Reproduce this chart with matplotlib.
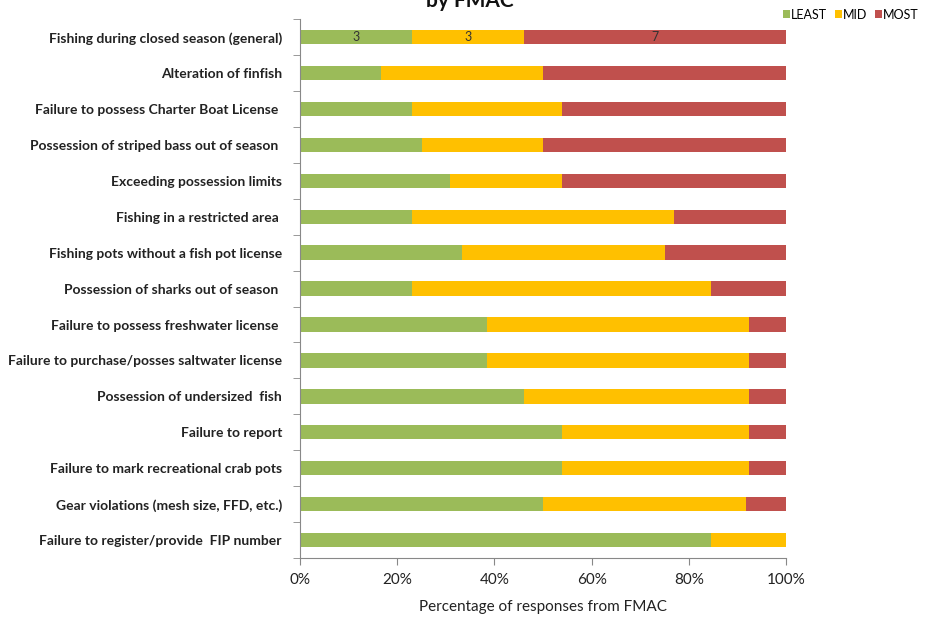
import numpy as np
import matplotlib
matplotlib.use('Agg')
import matplotlib.pyplot as plt

plt.rcParams['font.family'] = ['Lato', 'DejaVu Sans']

violations = ['Fishing during closed season (general)', 'Alteration of finfish',
              'Failure to possess Charter Boat License ', 'Possession of striped bass out of season ',
              'Exceeding possession limits', 'Fishing in a restricted area ',
              'Fishing pots without a fish pot license', 'Possession of sharks out of season ',
              'Failure to possess freshwater license ', 'Failure to purchase/posses saltwater license',
              'Possession of undersized  fish', 'Failure to report',
              'Failure to mark recreational crab pots', 'Gear violations (mesh size, FFD, etc.)',
              'Failure to register/provide  FIP number']
least = np.array([3, 2, 3, 3, 4, 3, 4, 3, 5, 5, 6, 7, 7, 6, 11])
mid = np.array([3, 4, 4, 3, 3, 7, 5, 8, 7, 7, 6, 5, 5, 5, 2])
most = np.array([7, 6, 6, 6, 6, 3, 3, 2, 1, 1, 1, 1, 1, 1, 0])

total = least + mid + most
p_least = least / total
p_mid = mid / total
p_most = most / total

fig = plt.figure(figsize=(9.27, 6.18), dpi=100)
ax = fig.add_axes([0.3236, 0.097, 0.848 - 0.3236, 0.872])

y = np.arange(len(violations))
h = 0.40
b1 = ax.barh(y, p_least, height=h, color='#9BBB59', label='LEAST')
b2 = ax.barh(y, p_mid, left=p_least, height=h, color='#FFC000', label='MID')
b3 = ax.barh(y, p_most, left=p_least + p_mid, height=h, color='#C0504D', label='MOST')

# counts shown only on the first bar
for bars, vals in [(b1, least), (b2, mid), (b3, most)]:
    r = bars[0]
    ax.text(r.get_x() + r.get_width() / 2, r.get_y() + r.get_height() / 2, str(vals[0]),
            ha='center', va='center', fontsize=9, color='#333333')

ax.set_ylim(len(violations) - 0.5, -0.5)
ax.set_xlim(0, 1)
ax.set_yticks(y)
ax.set_yticklabels(violations, fontsize=10, fontweight='bold', color='#222222')
ax.set_yticks(np.arange(-0.5, len(violations), 1), minor=True)
ax.tick_params(axis='y', which='major', length=0, pad=13)
ax.tick_params(axis='y', which='minor', length=5, color='#888888', direction='out')

ax.set_xticks(np.linspace(0, 1, 6))
ax.set_xticklabels(['0%', '20%', '40%', '60%', '80%', '100%'], fontsize=11, color='#222222')
ax.tick_params(axis='x', length=5, color='#888888', direction='out', pad=6)
ax.set_xlabel('Percentage of responses from FMAC', fontsize=11, color='#222222', labelpad=9)

for s in ['top', 'right']:
    ax.spines[s].set_visible(False)
for s in ['left', 'bottom']:
    ax.spines[s].set_color('#888888')

fig.text(0.507, 0.998, 'by FMAC', ha='center', va='center', fontsize=15, fontweight='bold',
         color='#111111')

fig.legend(handles=[b1, b2, b3], loc='upper right', bbox_to_anchor=(1.0, 1.0), ncol=3,
           frameon=False, fontsize=9, handlelength=0.6, handleheight=0.6, handletextpad=0.05,
           columnspacing=0.6, borderaxespad=0.3)

fig.savefig('out.png', dpi=100)
